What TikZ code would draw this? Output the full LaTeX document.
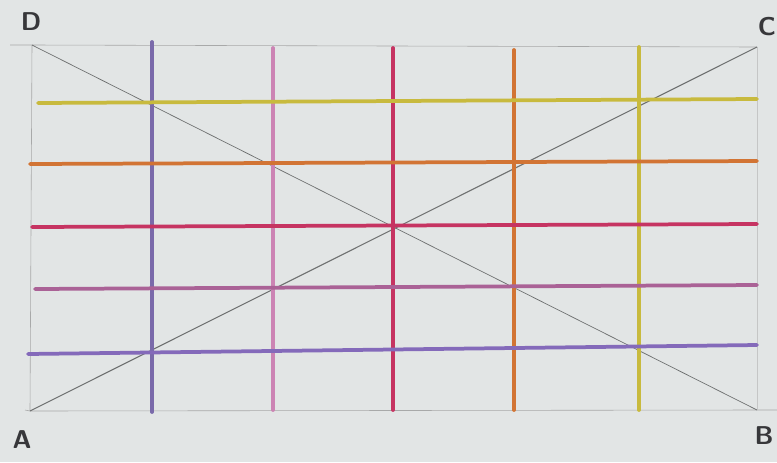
\documentclass[tikz,border=0pt]{standalone}
\usepackage{tikz}
\usetikzlibrary{positioning}
\definecolor{paper}{RGB}{226, 229, 229}
\definecolor{pencil}{RGB}{110, 112, 112}
\definecolor{penciltext}{RGB}{55, 55, 58}
\definecolor{cpurple}{RGB}{122, 106, 170}
\definecolor{cpink}{RGB}{204, 132, 180}
\definecolor{cred}{RGB}{198, 52, 98}
\definecolor{corange}{RGB}{210, 116, 52}
\definecolor{cyellow}{RGB}{200, 186, 62}
\definecolor{hpink}{RGB}{170, 98, 150}
\definecolor{hblue}{RGB}{132, 106, 186}

\begin{document}
\begin{tikzpicture}[
    x=0.03cm, y=-0.03cm,
    guide/.style={draw=pencil!60, line width=0.5pt},
    diag/.style={draw=pencil, line width=0.9pt},
    crayon/.style={line width=3.2pt, line cap=round},
    corner/.style={font=\fontsize{22}{22}\selectfont\sffamily\bfseries, text=penciltext, inner sep=0pt},
]

% paper
\fill[paper] (0,0) rectangle (777,462);
\useasboundingbox (0,0) rectangle (777,462);

% corners of the rectangle
\coordinate (A) at (30,411);
\coordinate (B) at (757,410);
\coordinate (C) at (757,47);
\coordinate (D) at (32,45);

% corner labels
\node[corner] (lD) at (31,22) {D};
\node[corner] (lC) at (767,27) {C};
\node[corner] (lA) at (22,440) {A};
\node[corner] (lB) at (764,436) {B};

% pencil frame
\draw[guide] (10,45) -- (D) -- (C);
\draw[guide] (25,410) -- (A) -- (B) -- (777,410);
\draw[guide] (D) -- (A);
\draw[guide, draw=pencil!40] (C) -- (B);

% diagonals
\draw[diag] (A) -- (C);
\draw[diag, line width=0.6pt] (D) -- (B);

% vertical crayon lines
\foreach \x/\ya/\yb/\col in {152/42/412/cpurple, 273/48/410/cpink,
    393/48/410/cred, 514/50/410/corange, 639/47/410/cyellow}{
  \coordinate (v\x t) at (\x,\ya);
  \coordinate (v\x b) at (\x,\yb);
  \draw[crayon, draw=\col] (v\x t) -- (v\x b);
}

% horizontal crayon lines
\foreach \ya/\yb/\xa/\col in {103/99/38/cyellow, 164/161/30/corange,
    227/224/32/cred, 289/285/35/hpink, 354/345/28/hblue}{
  \coordinate (h\ya l) at (\xa,\ya);
  \coordinate (h\ya r) at (757,\yb);
  \draw[crayon, draw=\col] (h\ya l) -- (h\ya r);
}

\end{tikzpicture}
\end{document}
